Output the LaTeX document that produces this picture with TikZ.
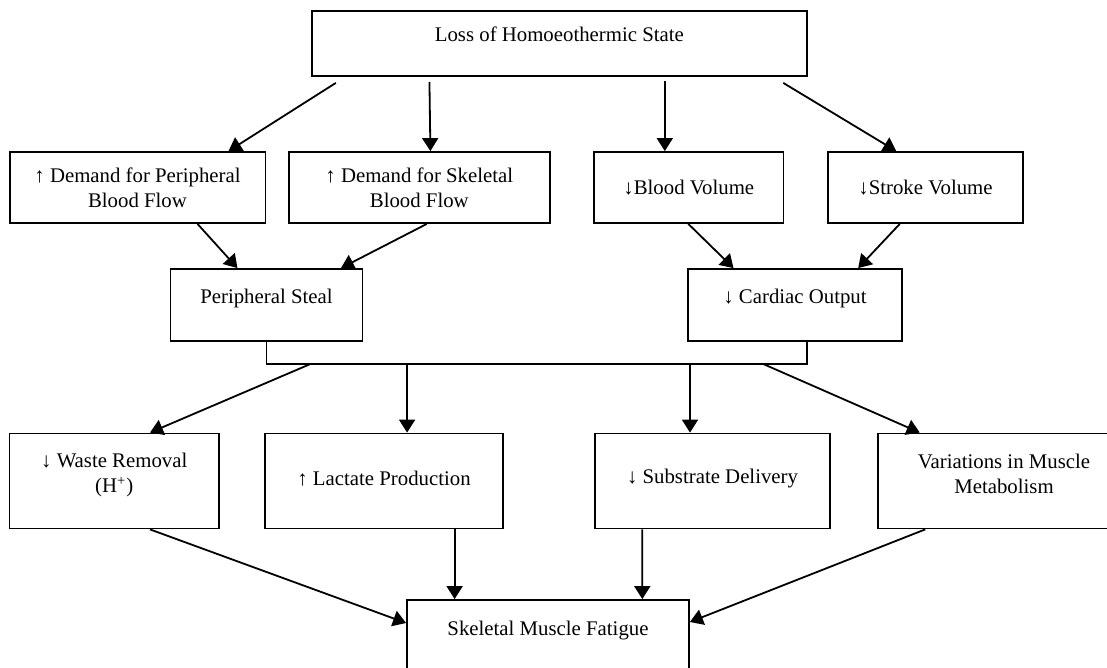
\documentclass[tikz,border=0pt]{standalone}
\usepackage{fontspec}
\setmainfont{Liberation Serif}
\usetikzlibrary{arrows.meta}
\usetikzlibrary{calc}
\newcommand{\lowstrut}[1]{\rule[-#1]{0pt}{#1}}

\begin{document}
\begin{tikzpicture}[x=0.5pt, y=-0.5pt, font=\fontsize{10.4}{12.5}\selectfont,
    box/.style={draw, line width=0.9pt, align=center, inner sep=2pt},
    flow/.style={line width=0.9pt, -{Triangle[length=6.5pt,width=8pt]}}]
  \fill[white] (0,0) rectangle (1107,668);
  \useasboundingbox (0,0) rectangle (1107,668);
  \clip (0,0) rectangle (1107,668);

  \node[box, minimum width=247.6pt, minimum height=32.5pt] (loss) at (559.35,43.5) {Loss of Homoeothermic State\lowstrut{9.5pt}};
  \node[box, minimum width=127.9pt, minimum height=35.5pt] (periph) at (137.5,187.5) {↑ Demand for Peripheral\\ Blood Flow};
  \node[box, minimum width=130.7pt, minimum height=35.5pt] (skel) at (419.3,187.5) {↑ Demand for Skeletal\\ Blood Flow};
  \node[box, minimum width=94.6pt, minimum height=35.5pt] (bvol) at (688.8,187.5) {↓Blood Volume};
  \node[box, minimum width=97.3pt, minimum height=35.5pt] (svol) at (925.5,187.5) {↓Stroke Volume};
  \node[box, minimum width=96pt, minimum height=36pt] (steal) at (266.45,305) {Peripheral Steal\lowstrut{9.2pt}};
  \node[box, minimum width=106.7pt, minimum height=36pt] (cardiac) at (795,305) {↓ Cardiac Output\lowstrut{9.2pt}};
  \node[box, minimum width=104.7pt, minimum height=47.5pt] (waste) at (114.25,481) {↓ Waste Removal\\ (H\textsuperscript{+})\lowstrut{8.3pt}};
  \node[box, minimum width=119pt, minimum height=47.5pt] (lactate) at (384,481) {↑ Lactate Production\lowstrut{2.6pt}};
  \node[box, minimum width=117.5pt, minimum height=47.5pt] (substrate) at (712.5,481) {↓ Substrate Delivery\lowstrut{4.8pt}};
  \node[box, minimum width=126pt, minimum height=47.5pt] (metab) at (1004,481) {Variations in Muscle\\ Metabolism\lowstrut{7pt}};
  \node[box, minimum width=141pt, minimum height=36pt] (fatigue) at (548,636) {Skeletal Muscle Fatigue\lowstrut{8.2pt}};

  % joining bar under the two middle boxes
  \coordinate (bar) at ($(cardiac.south)+(11.7,22)$);
  \draw[line width=0.9pt] (steal.south) |- (bar) -- (bar |- cardiac.south);

  \path[flow]
    ($(loss.south west)+(25,6)$) edge ($(periph.north)+(91,0)$)
    ($(loss.south west)+(118.6,5)$) edge ($(skel.north)+(11.1,0)$)
    ($(loss.south)+(105.45,4)$) edge ($(bvol.north)+(-24,0)$)
    ($(loss.south east)+(-24.6,6)$) edge ($(svol.north)+(-29.3,0)$)
    ($(periph.south)+(60,0)$) edge ($(steal.north)+(-29,0)$)
    ($(skel.south)+(7.5,0)$) edge ($(steal.north)+(74.5,0)$)
    ($(bvol.south)+(-0.5,0)$) edge ($(cardiac.north)+(-61.5,0)$)
    ($(svol.south)+(-25.7,0)$) edge ($(cardiac.north)+(63.2,0)$)
    ($(steal.south |- bar)+(44.2,0)$) edge ($(waste.north)+(35.75,0)$)
    ($(steal.south |- bar)+(140.6,0)$) edge ($(lactate.north)+(23.1,0)$)
    ($(bar)+(-116.7,0)$) edge ($(substrate.north)+(-22.5,0)$)
    ($(bar)+(-43.7,0)$) edge ($(metab.north)+(-84.3,0)$)
    ($(waste.south)+(35.75,0)$) edge ($(fatigue.west)+(0,-13)$)
    ($(lactate.south)+(70.6,0)$) edge ($(fatigue.north)+(-93.4,0)$)
    ($(substrate.south)+(-70.2,0)$) edge ($(fatigue.north)+(94.3,0)$)
    ($(metab.south)+(-78.8,0)$) edge ($(fatigue.east)+(0,-14)$);
\end{tikzpicture}
\end{document}
